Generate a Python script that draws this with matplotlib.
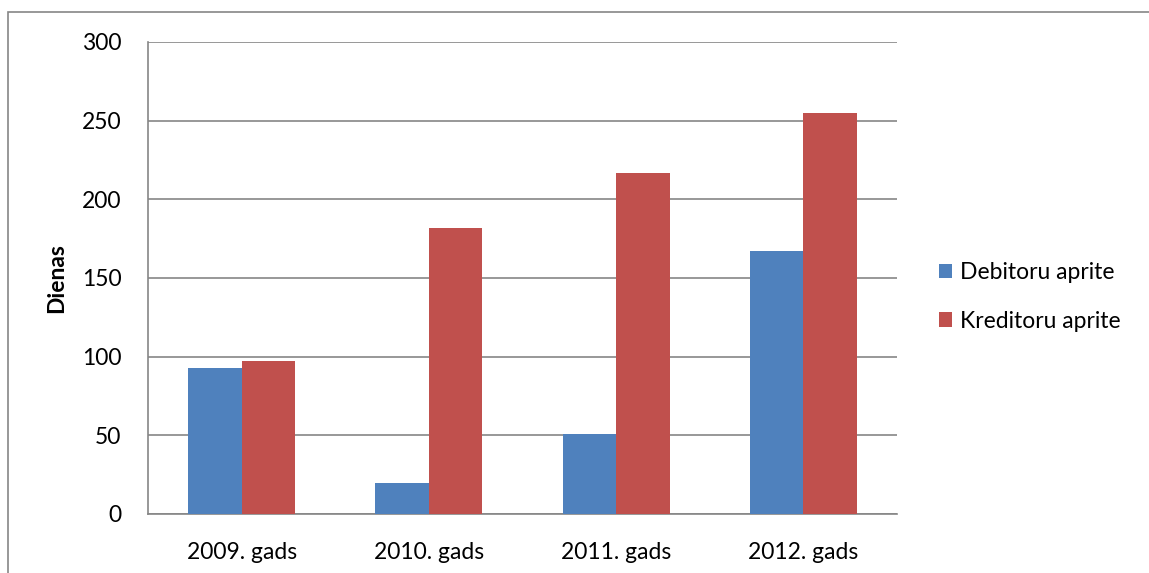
import numpy as np
import matplotlib.pyplot as plt
from matplotlib.patches import Rectangle

plt.rcParams['font.family'] = ['Lato', 'DejaVu Sans']

# dati
gadi = ["2009. gads", "2010. gads", "2011. gads", "2012. gads"]
debitoru = [93, 20, 51, 167]
kreditoru = [97, 182, 217, 255]

zila = '#4F81BD'
sarkana = '#C0504D'
peleka = '#868686'

fig = plt.figure(figsize=[11.49, 5.73], dpi=100)
ax = fig.add_axes([148/1149, 1 - 514/573, (897-148)/1149, (514-42)/573])

x = np.arange(len(gadi))
w = 1 / 3.5
ax.bar(x - w/2, debitoru, w, color=zila, label="Debitoru aprite", zorder=3)
ax.bar(x + w/2, kreditoru, w, color=sarkana, label="Kreditoru aprite", zorder=3)

ax.set_xlim(-0.5, 3.5)
ax.set_ylim(0, 300)
ax.set_yticks(range(0, 301, 50))
ax.set_xticks(x)
ax.set_xticklabels(gadi)
ax.tick_params(axis='both', length=0, labelsize=16.5, colors='black')
ax.tick_params(axis='y', pad=19)
ax.tick_params(axis='x', pad=20)
ax.yaxis.grid(True, color=peleka, linewidth=1.2, zorder=0)

for s in ['top', 'right']:
    ax.spines[s].set_visible(False)
for s in ['left', 'bottom']:
    ax.spines[s].set_color(peleka)
    ax.spines[s].set_linewidth(1.2)

ax.set_ylabel("Dienas", fontsize=16.5, fontweight='bold', labelpad=11)

ax.legend(loc='center left', bbox_to_anchor=(1.028, 0.46), frameon=False,
          fontsize=16.5, handlelength=0.6, handleheight=0.6, handletextpad=0.35,
          labelspacing=1.2)

# ārējais rāmis
fig.patches.append(Rectangle((8/1149, -0.05), 1.2, 1 - 12/573 + 0.05,
                             transform=fig.transFigure, fill=False,
                             edgecolor=peleka, linewidth=1.2))

plt.savefig("out.png", dpi=100)
